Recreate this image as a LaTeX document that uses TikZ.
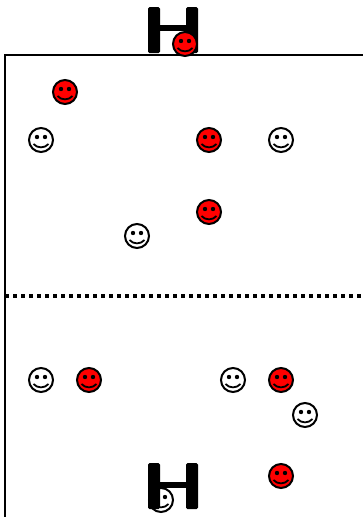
\documentclass[tikz,border=0pt]{standalone}
\usepackage{xcolor}
\definecolor{faceRed}{HTML}{FF0000}
\begin{document}
\begin{tikzpicture}[x=1pt, y=-1pt,
  field/.style={line width=2pt, black},
  midline/.style={line width=4pt, black, dash pattern=on 4pt off 4pt},
  post/.style={fill=black, rounded corners=1.5pt},
  bar/.style={line width=6pt, black},
  face/.pic={
    \draw[line width=2pt, fill=#1] (0,0) circle (12);
    \fill (-4,-3) circle (2.2);
    \fill (4,-3) circle (2.2);
    \draw[line width=1.8pt] (-7.5,4) .. controls (-3.5,8.5) and (3.5,8.5) .. (7.5,4);
  }]
\useasboundingbox (0,0) rectangle (363,517);
% field
\draw[field] (5,517) -- (5,55) -- (363,55);
\draw[midline] (5,296) -- (363,296);
% players
\foreach \px/\py/\col in {65/92/faceRed, 41/140/white, 209/140/faceRed, 281/140/white,
    209/212/faceRed, 137/236/white, 41/380/white, 89/380/faceRed, 233/380/white,
    281/380/faceRed, 305/415/white, 281/476/faceRed, 161/500/white}
  \pic at (\px,\py) {face=\col};
% goals
\fill[post] (148,7) rectangle (160,53);
\fill[post] (186,7) rectangle (198,53);
\draw[bar] (154,28) -- (192,28);
\fill[post] (148,463) rectangle (160,509);
\fill[post] (186,463) rectangle (198,509);
\draw[bar] (154,485) -- (192,485);
\pic at (185,44) {face=faceRed};
\end{tikzpicture}
\end{document}
